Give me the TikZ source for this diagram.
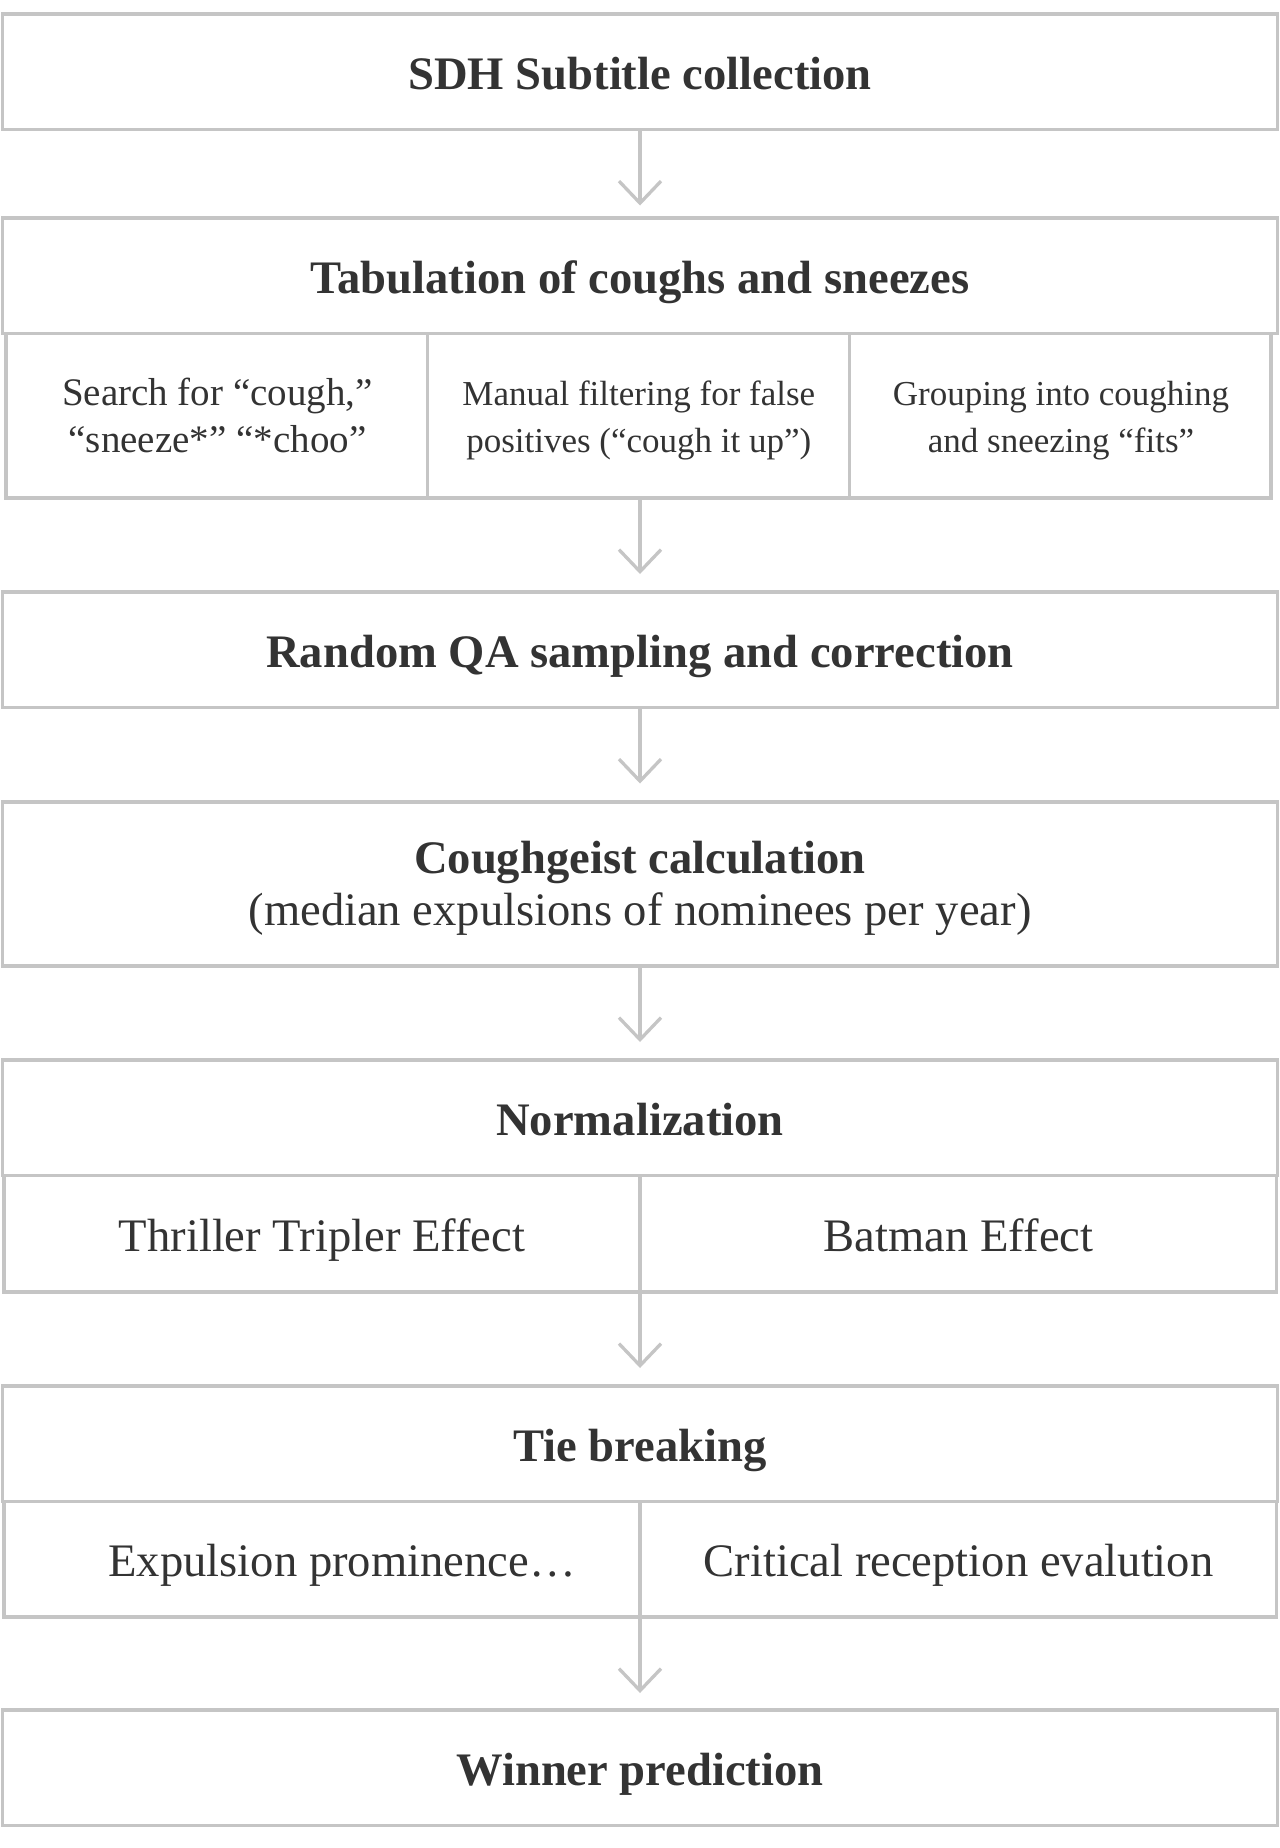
\documentclass[tikz,border=0pt]{standalone}
\usepackage{fontspec}
\setmainfont{Liberation Serif}
\usetikzlibrary{arrows.meta}
\definecolor{edge}{HTML}{C5C5C5}
\definecolor{ink}{HTML}{333333}
\begin{document}
\begin{tikzpicture}[x=0.5pt,y=-0.5pt,
  box/.style={draw=edge, line width=1.65pt, rectangle, inner sep=0pt, outer sep=0pt},
  mainbox/.style={box, minimum width=637.7pt},
  lbl/.style={text=ink, inner sep=0pt, outer sep=0pt, anchor=base},
  headtxt/.style={lbl, font=\fontsize{23.3pt}{28pt}\selectfont\bfseries},
  bigtxt/.style={lbl, font=\fontsize{23.3pt}{28pt}\selectfont},
  lefttxt/.style={lbl, font=\fontsize{19.5pt}{24pt}\selectfont},
  smalltxt/.style={lbl, font=\fontsize{17.5pt}{22pt}\selectfont},
  flow/.style={draw=edge, line width=1.65pt, -{Straight Barb[length=11pt, width=21pt]}}]
\useasboundingbox (0,0) rectangle (1280,1848);

% main boxes
\node[mainbox, minimum height=57.75pt] (b1) at (640,71.75) {};
\node[mainbox, minimum height=57.75pt] (b2h) at (640,275.75) {};
\node[mainbox, minimum height=57.75pt] (b3) at (640,649.75) {};
\node[mainbox, minimum height=82pt] (b4) at (640,884) {};
\node[mainbox, minimum height=57.75pt] (b5h) at (640,1117.75) {};
\node[mainbox, minimum height=57.75pt] (b6h) at (640,1443.75) {};
\node[mainbox, minimum height=57.75pt] (b7) at (640,1767.75) {};

% sub cells of tabulation
\node[box, minimum width=210.85pt, minimum height=82.25pt] (s2l) at (216.85,415.75) {};
\node[box, minimum width=210.8pt, minimum height=82.25pt] (s2m) at (638.5,415.75) {};
\node[box, minimum width=210.85pt, minimum height=82.25pt] (s2r) at (1060.15,415.75) {};

% sub cells of normalization
\node[box, minimum width=318pt, minimum height=58.25pt] (s5l) at (322,1233.75) {};
\node[box, minimum width=318.25pt, minimum height=58.25pt] (s5r) at (958.25,1233.75) {};

% sub cells of tie breaking
\node[box, minimum width=318pt, minimum height=57.75pt] (s6l) at (322,1559.25) {};
\node[box, minimum width=318.25pt, minimum height=57.75pt] (s6r) at (958.25,1559.25) {};

% texts
\node[headtxt] (t1) at (640,89) {SDH Subtitle collection};
\node[headtxt] (t2) at (640,293) {Tabulation of coughs and sneezes};
\node[lefttxt] (t2la) at (217.5,405.5) {Search for “cough,”};
\node[lefttxt] (t2lb) at (217.5,452.5) {“sneeze*” “*choo”};
\node[smalltxt] (t2ma) at (638.8,405.5) {Manual filtering for false};
\node[smalltxt] (t2mb) at (638.8,452.5) {positives (“cough it up”)};
\node[smalltxt] (t2ra) at (1061,405.5) {Grouping into coughing};
\node[smalltxt] (t2rb) at (1061,452.5) {and sneezing “fits”};
\node[headtxt] (t3) at (640,667) {Random QA sampling and correction};
\node[headtxt] (t4a) at (640,873.3) {Coughgeist calculation};
\node[bigtxt] (t4b) at (640,925) {(median expulsions of nominees per year)};
\node[headtxt] (t5) at (640,1135) {Normalization};
\node[bigtxt] (t5l) at (322,1251) {Thriller Tripler Effect};
\node[bigtxt] (t5r) at (958.5,1251) {Batman Effect};
\node[headtxt] (t6) at (640,1461) {Tie breaking};
\node[bigtxt] (t6l) at (342,1576) {Expulsion prominence…};
\node[bigtxt] (t6r) at (958.5,1576) {Critical reception evalution};
\node[headtxt] (t7) at (640,1785) {Winner prediction};

% connectors
\draw[flow, shorten >=6.25pt] (b1.south) -- (b2h.north);
\draw[flow, shorten >=9pt] (b3.north |- s2m.south) -- (b3.north);
\draw[flow, shorten >=9.25pt] (b3.south) -- (b4.north);
\draw[flow, shorten >=9pt] (b4.south) -- (b5h.north);
\draw[flow, shorten >=9pt] (b6h.north |- s5l.south) -- (b6h.north);
\draw[flow, shorten >=8.5pt] (b7.north |- s6l.south) -- (b7.north);
\end{tikzpicture}
\end{document}
